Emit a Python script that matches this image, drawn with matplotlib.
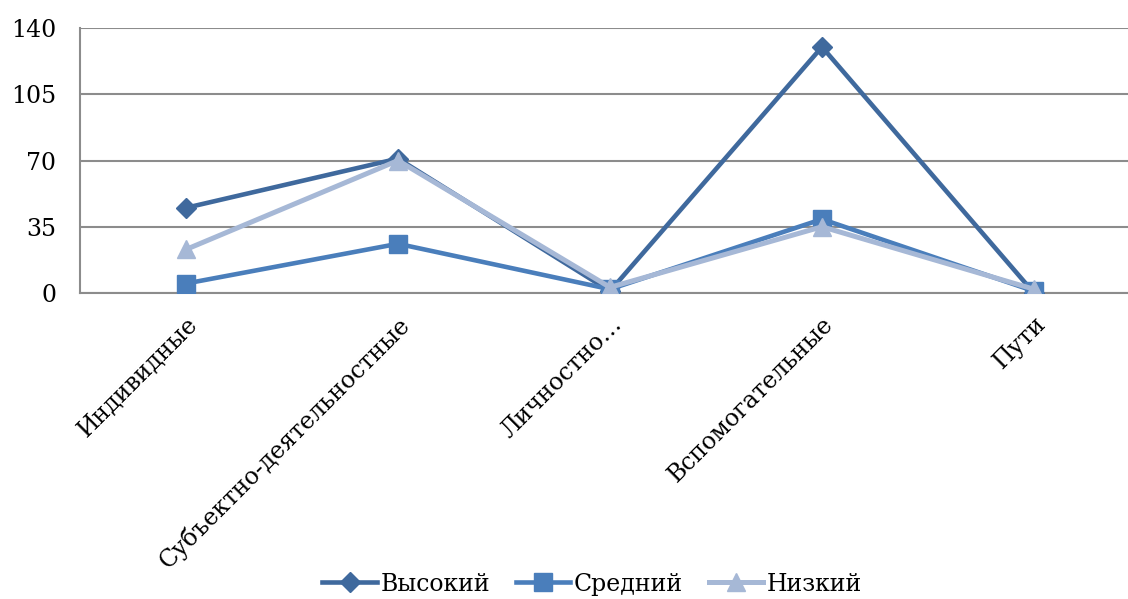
import matplotlib.pyplot as plt

categories = ['Индивидные', 'Субъектно-деятельностные', 'Личностно…', 'Вспомогательные', 'Пути']
vysokiy = [45, 71, 1, 130, 0]
sredniy = [5, 26, 2, 39, 1]
nizkiy = [23, 70, 3, 35, 2]
yticks = [0, 35, 70, 105, 140]

plt.rcParams['font.family'] = ['DejaVu Serif']

fig = plt.figure(figsize=(11.28, 5.99), dpi=100)
# область построения (в пикселях: слева 80, сверху 28, снизу 293)
ax = fig.add_axes([80 / 1128, 1 - 293 / 599, 1 - 80 / 1128, (293 - 28) / 599])

x = list(range(len(categories)))
ax.plot(x, vysokiy, color='#3F699D', linewidth=3.3, marker='D', markersize=10, label='Высокий', zorder=3)
ax.plot(x, sredniy, color='#4A7EBB', linewidth=3.3, marker='s', markersize=13, label='Средний', zorder=3)
ax.plot(x, nizkiy, color='#A6B8D6', linewidth=3.6, marker='^', markersize=13, label='Низкий', zorder=4)

ax.set_ylim(0, 140)
ax.set_xlim(-0.5, (1128 - 80) / 212 - 0.5)
ax.set_yticks(yticks)
ax.yaxis.grid(True, color='#8C8C8C', linewidth=1.5)
ax.set_axisbelow(True)

for s in ['top', 'right']:
    ax.spines[s].set_visible(False)
ax.spines['left'].set_color('#8C8C8C')
ax.spines['bottom'].set_color('#8C8C8C')
ax.spines['left'].set_linewidth(1.5)
ax.spines['bottom'].set_linewidth(1.5)

ax.tick_params(axis='y', length=0, labelsize=17, pad=17)
ax.tick_params(axis='x', length=0, labelsize=17, pad=14)
ax.set_xticks(x)
ax.set_xticklabels(categories, rotation=45, ha='right', rotation_mode='anchor')

leg = fig.legend(loc='lower center', bbox_to_anchor=(0.525, -0.03), ncol=3, frameon=False,
                 fontsize=17, handlelength=2.3, columnspacing=1.1, handletextpad=0.15)

plt.savefig('out.png', dpi=100)
